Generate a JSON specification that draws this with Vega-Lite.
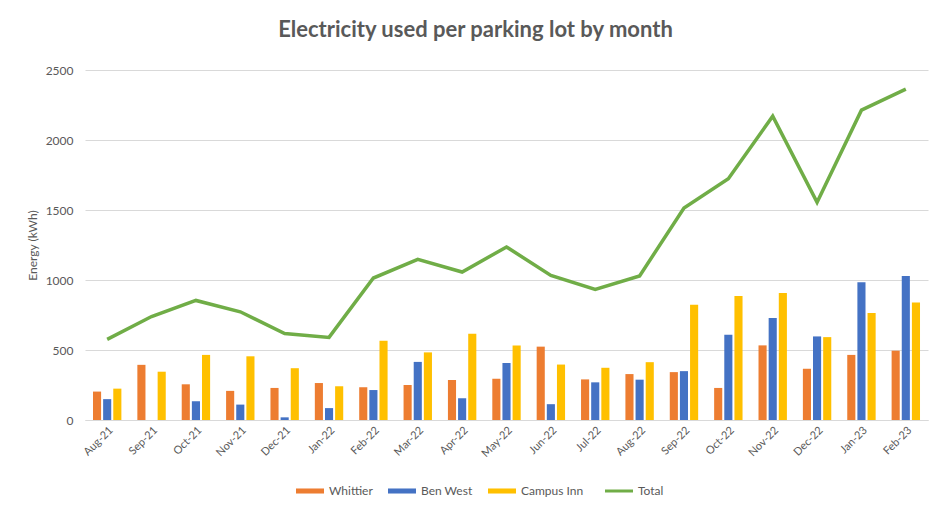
{
  "$schema": "https://vega.github.io/schema/vega-lite/v6.json",
  "width": 843,
  "height": 350,
  "autosize": {"type": "none"},
  "padding": {"left": 85, "top": 70, "right": 7, "bottom": 90},
  "background": "white",
  "title": {
    "text": "Electricity used per parking lot by month",
    "font": "Lato",
    "fontSize": 22,
    "fontWeight": "bold",
    "color": "#595959",
    "anchor": "middle",
    "dx": -31,
    "offset": 22
  },
  "config": {
    "view": {"stroke": null},
    "font": "Lato",
    "axis": {"labelColor": "#595959", "labelFont": "Lato", "labelFontSize": 12, "titleColor": "#595959", "titleFont": "Lato", "titleFontWeight": "normal", "titleFontSize": 12}
  },
  "datasets": {
    "bars": [
      {"month": "Aug-21", "lot": "Whittier", "kwh": 203}, {"month": "Aug-21", "lot": "Ben West", "kwh": 149}, {"month": "Aug-21", "lot": "Campus Inn", "kwh": 224},
      {"month": "Sep-21", "lot": "Whittier", "kwh": 394}, {"month": "Sep-21", "lot": "Ben West", "kwh": 0}, {"month": "Sep-21", "lot": "Campus Inn", "kwh": 345},
      {"month": "Oct-21", "lot": "Whittier", "kwh": 255}, {"month": "Oct-21", "lot": "Ben West", "kwh": 134}, {"month": "Oct-21", "lot": "Campus Inn", "kwh": 465},
      {"month": "Nov-21", "lot": "Whittier", "kwh": 208}, {"month": "Nov-21", "lot": "Ben West", "kwh": 110}, {"month": "Nov-21", "lot": "Campus Inn", "kwh": 455},
      {"month": "Dec-21", "lot": "Whittier", "kwh": 229}, {"month": "Dec-21", "lot": "Ben West", "kwh": 19}, {"month": "Dec-21", "lot": "Campus Inn", "kwh": 370},
      {"month": "Jan-22", "lot": "Whittier", "kwh": 264}, {"month": "Jan-22", "lot": "Ben West", "kwh": 85}, {"month": "Jan-22", "lot": "Campus Inn", "kwh": 241},
      {"month": "Feb-22", "lot": "Whittier", "kwh": 234}, {"month": "Feb-22", "lot": "Ben West", "kwh": 214}, {"month": "Feb-22", "lot": "Campus Inn", "kwh": 566},
      {"month": "Mar-22", "lot": "Whittier", "kwh": 250}, {"month": "Mar-22", "lot": "Ben West", "kwh": 415}, {"month": "Mar-22", "lot": "Campus Inn", "kwh": 483},
      {"month": "Apr-22", "lot": "Whittier", "kwh": 285}, {"month": "Apr-22", "lot": "Ben West", "kwh": 156}, {"month": "Apr-22", "lot": "Campus Inn", "kwh": 616},
      {"month": "May-22", "lot": "Whittier", "kwh": 295}, {"month": "May-22", "lot": "Ben West", "kwh": 408}, {"month": "May-22", "lot": "Campus Inn", "kwh": 533},
      {"month": "Jun-22", "lot": "Whittier", "kwh": 524}, {"month": "Jun-22", "lot": "Ben West", "kwh": 113}, {"month": "Jun-22", "lot": "Campus Inn", "kwh": 396},
      {"month": "Jul-22", "lot": "Whittier", "kwh": 290}, {"month": "Jul-22", "lot": "Ben West", "kwh": 269}, {"month": "Jul-22", "lot": "Campus Inn", "kwh": 373},
      {"month": "Aug-22", "lot": "Whittier", "kwh": 328}, {"month": "Aug-22", "lot": "Ben West", "kwh": 288}, {"month": "Aug-22", "lot": "Campus Inn", "kwh": 413},
      {"month": "Sep-22", "lot": "Whittier", "kwh": 342}, {"month": "Sep-22", "lot": "Ben West", "kwh": 349}, {"month": "Sep-22", "lot": "Campus Inn", "kwh": 823},
      {"month": "Oct-22", "lot": "Whittier", "kwh": 229}, {"month": "Oct-22", "lot": "Ben West", "kwh": 609}, {"month": "Oct-22", "lot": "Campus Inn", "kwh": 885},
      {"month": "Nov-22", "lot": "Whittier", "kwh": 533}, {"month": "Nov-22", "lot": "Ben West", "kwh": 729}, {"month": "Nov-22", "lot": "Campus Inn", "kwh": 908},
      {"month": "Dec-22", "lot": "Whittier", "kwh": 366}, {"month": "Dec-22", "lot": "Ben West", "kwh": 597}, {"month": "Dec-22", "lot": "Campus Inn", "kwh": 592},
      {"month": "Jan-23", "lot": "Whittier", "kwh": 465}, {"month": "Jan-23", "lot": "Ben West", "kwh": 984}, {"month": "Jan-23", "lot": "Campus Inn", "kwh": 764},
      {"month": "Feb-23", "lot": "Whittier", "kwh": 495}, {"month": "Feb-23", "lot": "Ben West", "kwh": 1028}, {"month": "Feb-23", "lot": "Campus Inn", "kwh": 840}
    ],
    "total": [
      {"month": "Aug-21", "lot": "Total", "kwh": 576},
      {"month": "Sep-21", "lot": "Total", "kwh": 739},
      {"month": "Oct-21", "lot": "Total", "kwh": 854},
      {"month": "Nov-21", "lot": "Total", "kwh": 773},
      {"month": "Dec-21", "lot": "Total", "kwh": 618},
      {"month": "Jan-22", "lot": "Total", "kwh": 590},
      {"month": "Feb-22", "lot": "Total", "kwh": 1014},
      {"month": "Mar-22", "lot": "Total", "kwh": 1148},
      {"month": "Apr-22", "lot": "Total", "kwh": 1057},
      {"month": "May-22", "lot": "Total", "kwh": 1236},
      {"month": "Jun-22", "lot": "Total", "kwh": 1033},
      {"month": "Jul-22", "lot": "Total", "kwh": 932},
      {"month": "Aug-22", "lot": "Total", "kwh": 1029},
      {"month": "Sep-22", "lot": "Total", "kwh": 1514},
      {"month": "Oct-22", "lot": "Total", "kwh": 1723},
      {"month": "Nov-22", "lot": "Total", "kwh": 2170},
      {"month": "Dec-22", "lot": "Total", "kwh": 1555},
      {"month": "Jan-23", "lot": "Total", "kwh": 2213},
      {"month": "Feb-23", "lot": "Total", "kwh": 2363}
    ]
  },
  "encoding": {
    "x": {
      "field": "month",
      "type": "nominal",
      "sort": null,
      "scale": {"paddingInner": 0.36, "paddingOuter": 0.18},
      "axis": {"title": null, "labelAngle": -45, "labelFontSize": 11, "ticks": false, "domainColor": "#d9d9d9", "labelPadding": 4, "grid": false}
    },
    "y": {
      "field": "kwh",
      "type": "quantitative",
      "scale": {"domain": [0, 2500], "nice": false},
      "axis": {"title": "Energy (kWh)", "values": [0, 500, 1000, 1500, 2000, 2500], "format": "d", "labelOverlap": false, "domain": false, "ticks": false, "grid": true, "gridColor": "#d9d9d9", "labelPadding": 12, "titlePadding": 6}
    },
    "color": {
      "field": "lot",
      "type": "nominal",
      "scale": {"domain": ["Whittier", "Ben West", "Campus Inn", "Total"], "range": ["#ED7D31", "#4472C4", "#FFC000", "#70AD47"]},
      "legend": {
        "orient": "none",
        "legendX": 219,
        "legendY": 415,
        "padding": 0,
        "direction": "horizontal",
        "title": null,
        "labelColor": "#595959",
        "labelFontSize": 12,
        "labelOffset": 13,
        "symbolSize": 784,
        "columnPadding": 15,
        "encode": {
          "symbols": {
            "update": {
              "shape": {"signal": "datum.value === 'Total' ? 'stroke' : 'M-1,-0.18H1V0.18H-1Z'"},
              "stroke": {"signal": "scale('color', datum.value)"},
              "fill": {"signal": "datum.value === 'Total' ? 'transparent' : scale('color', datum.value)"},
              "strokeWidth": {"signal": "datum.value === 'Total' ? 3 : 0"},
              "size": {"value": 784}
            }
          }
        }
      }
    }
  },
  "layer": [
    {
      "data": {"name": "bars"},
      "mark": {"type": "bar"},
      "encoding": {
        "xOffset": {"field": "lot", "type": "nominal", "sort": ["Whittier", "Ben West", "Campus Inn"], "scale": {"paddingInner": 0.2}}
      }
    },
    {
      "data": {"name": "total"},
      "mark": {"type": "line", "strokeWidth": 3.5},
      "encoding": {}
    }
  ]
}
